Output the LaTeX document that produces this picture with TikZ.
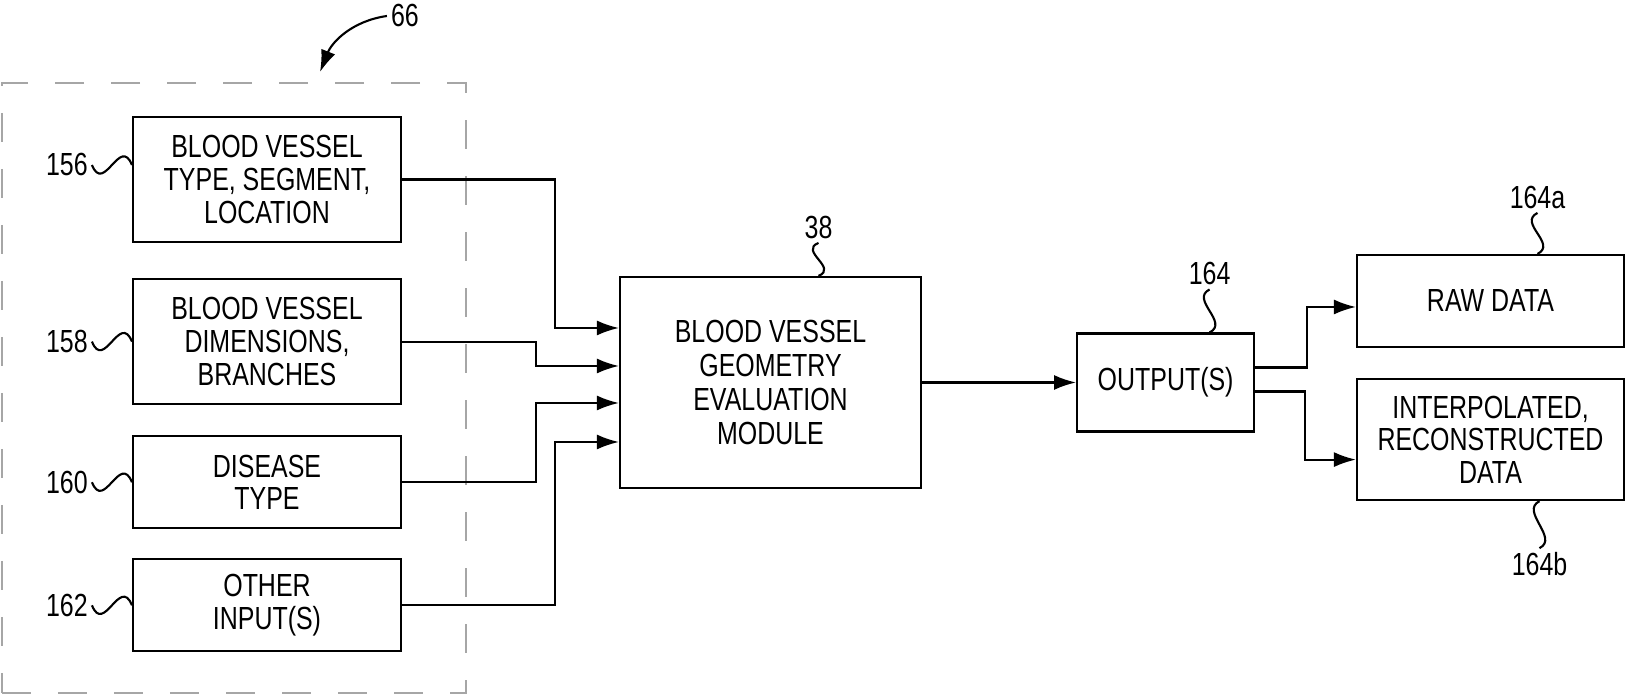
\documentclass[tikz,border=0pt]{standalone}
\usepackage{fontspec}
\setmainfont{Liberation Sans}[FakeStretch=0.78]
\usetikzlibrary{arrows.meta, positioning}

\begin{document}
\begin{tikzpicture}[
    node distance=0.35cm,
    blk/.style={rectangle, draw, line width=0.6pt, minimum width=2.68cm,
                minimum height=1.25cm, align=center, inner sep=0pt,
                font=\fontsize{9.1}{9.3}\selectfont},
    reflabel/.style={inner sep=1pt, font=\fontsize{9.1}{9.3}\selectfont},
    grpbox/.style={rectangle, draw=gray!70, line width=0.5pt,
                dash pattern=on 2.9mm off 2.7mm,
                minimum width=4.64cm, minimum height=6.10cm},
    flow/.style={line width=0.6pt, -{Latex[length=2.2mm, width=1.5mm]}},
    lead/.style={line width=0.6pt},
  ]
    \useasboundingbox (0,0) rectangle (16.27,-6.97);

    \node[grpbox] (grp) at (2.34,-3.88) {};
    \node[blk] (b156) at (2.67,-1.795) {BLOOD VESSEL\\TYPE, SEGMENT,\\LOCATION};
    \node[blk, below=of b156] (b158) {BLOOD VESSEL\\DIMENSIONS,\\BRANCHES};
    \node[blk, minimum height=0.92cm, below=0.30cm of b158] (b160) {DISEASE\\TYPE};
    \node[blk, minimum height=0.92cm, below=0.29cm of b160] (b162) {OTHER\\INPUT(S)};

    \node[blk, minimum width=3.01cm, minimum height=2.11cm,
          font=\fontsize{9.1}{9.7}\selectfont] (geo) at (7.705,-3.825)
          {BLOOD VESSEL\\GEOMETRY\\EVALUATION\\MODULE};
    \node[blk, minimum width=1.77cm, minimum height=0.98cm, right=1.54cm of geo] (outp) {OUTPUT(S)};
    \node[blk, minimum width=2.67cm, minimum height=0.92cm] (raw) at (14.905,-3.01) {RAW DATA};
    \node[blk, minimum width=2.67cm, minimum height=1.21cm, below=0.30cm of raw] (interp)
          {INTERPOLATED,\\RECONSTRUCTED\\DATA};

    \node[reflabel] (n66) at (4.05,-0.16) {66};
    \node[reflabel, left=0.40cm of b156, yshift=1.45mm] (n156) {156};
    \node[reflabel, left=0.40cm of b158] (n158) {158};
    \node[reflabel, left=0.40cm of b160] (n160) {160};
    \node[reflabel, left=0.40cm of b162] (n162) {162};
    \node[reflabel, above=0.33cm of geo, xshift=0.48cm] (n38) {38};
    \node[reflabel, above=0.43cm of outp, xshift=0.44cm] (n164) {164};
    \node[reflabel, above=0.41cm of raw, xshift=0.47cm] (n164a) {164a};
    \node[reflabel, below=0.47cm of interp, xshift=0.49cm] (n164b) {164b};

    \coordinate (g66) at ([xshift=0.86cm, yshift=0.10cm]grp.north);
    \draw[flow] (n66.west) .. controls +(-0.35,-0.05) and +(0.12,0.3) .. (g66);

    \draw[lead] (n156.east) .. controls +(0.12,-0.3) and +(-0.12,0.3) .. (n156.east -| b156.west);
    \draw[lead] (n158.east) .. controls +(0.12,-0.3) and +(-0.12,0.3) .. (n158.east -| b158.west);
    \draw[lead] (n160.east) .. controls +(0.12,-0.3) and +(-0.12,0.3) .. (n160.east -| b160.west);
    \draw[lead] (n162.east) .. controls +(0.12,-0.3) and +(-0.12,0.3) .. (n162.east -| b162.west);
    \draw[lead] (n38.south) .. controls +(-0.2,-0.08) and +(0.2,0.08) .. (n38.south |- geo.north);
    \draw[lead] (n164.south) .. controls +(-0.2,-0.1) and +(0.2,0.1) .. (n164.south |- outp.north);
    \draw[lead] (n164a.south) .. controls +(-0.2,-0.1) and +(0.2,0.1) .. (n164a.south |- raw.north);
    \draw[lead] (n164b.north |- interp.south) .. controls +(-0.2,-0.1) and +(0.2,0.1) .. (n164b.north);

    \draw[flow] (b156.east) -- ++(1.53,0) |- ([yshift=5.45mm]geo.west);
    \draw[flow] (b158.east) -- ++(1.34,0) |- ([yshift=1.65mm]geo.west);
    \draw[flow] (b160.east) -- ++(1.34,0) |- ([yshift=-2.05mm]geo.west);
    \draw[flow] (b162.east) -- ++(1.53,0) |- ([yshift=-5.95mm]geo.west);
    \draw[flow] (geo.east) -- (outp.west);
    \draw[flow] ([yshift=1.5mm]outp.east) -- ++(0.52,0) |- ([yshift=-0.6mm]raw.west);
    \draw[flow] ([yshift=-0.9mm]outp.east) -- ++(0.50,0) |- ([yshift=-2mm]interp.west);
  \end{tikzpicture}
\end{document}
